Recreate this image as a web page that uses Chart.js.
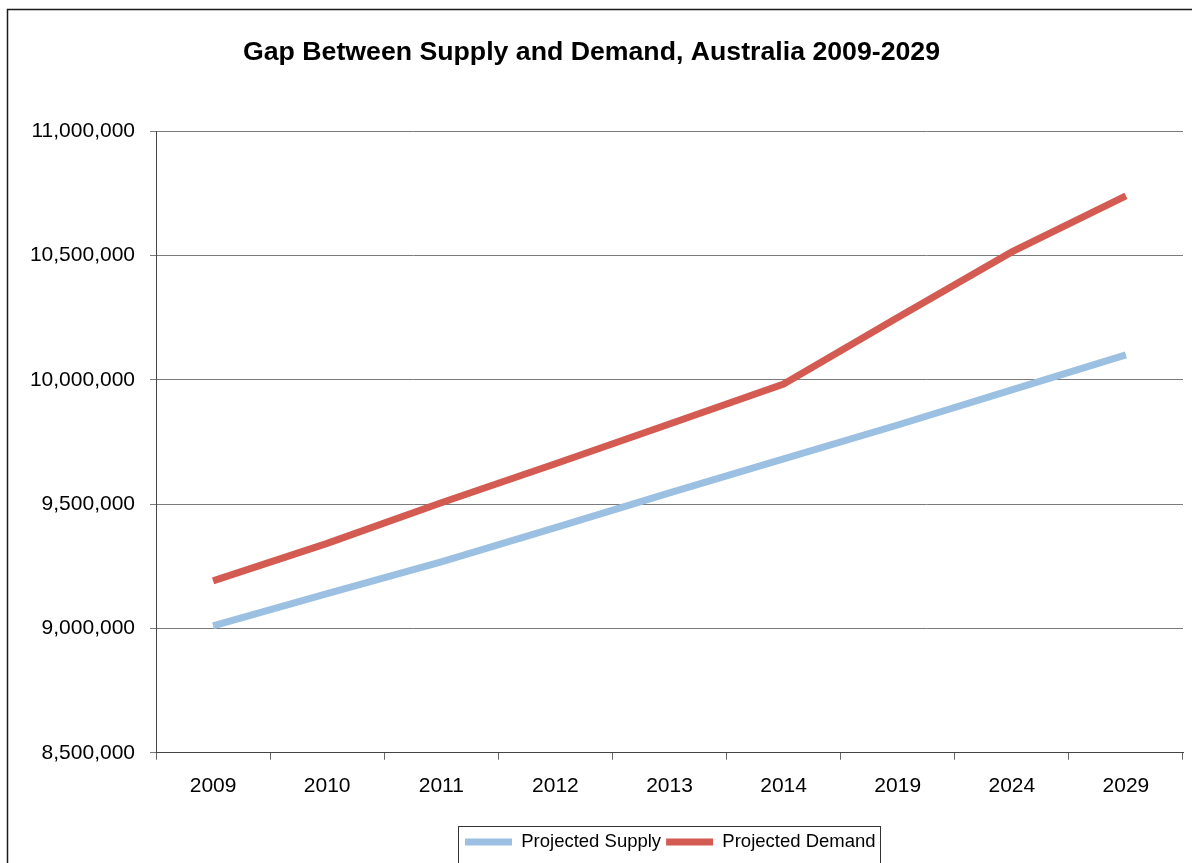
<!DOCTYPE html>
<html>
<head>
<meta charset="utf-8">
<script src="https://cdn.jsdelivr.net/npm/chart.js@4"></script>
<style>
  html, body { margin: 0; padding: 0; background: #fff; }
  #wrap { position: relative; width: 1192px; height: 863px; }
</style>
</head>
<body>
<div id="wrap"><canvas id="gapChart" width="1192" height="863"></canvas></div>
<script>
const years = ['2009', '2010', '2011', '2012', '2013', '2014', '2019', '2024', '2029'];
const projectedSupply = [9010000, 9140000, 9268000, 9405000, 9545000, 9682000, 9818000, 9959000, 10100000];
const projectedDemand = [9191000, 9342000, 9505000, 9662000, 9822000, 9983000, 10250000, 10514000, 10739000];
const yTicks = [8500000, 9000000, 9500000, 10000000, 10500000, 11000000];

const supplyColor = '#9bc0e1';
const demandColor = '#d45b52';
const fontFamily = 'Arial, "Liberation Sans", sans-serif';

// frame round the chart and a box round the legend
const framePlugin = {
    id: 'frame',
    afterLayout(chart) {
        // legend sits right of centre in the original
        chart.legend.left = 460;
    },
    beforeDraw(chart) {
        const ctx = chart.ctx;
        ctx.save();
        ctx.strokeStyle = '#1a1a1a';
        ctx.lineWidth = 1.5;
        ctx.beginPath();
        ctx.moveTo(7.5, 870);
        ctx.lineTo(7.5, 9.5);
        ctx.lineTo(1200, 9.5);
        ctx.stroke();
        ctx.restore();
    },
    afterDraw(chart) {
        const lg = chart.legend;
        const boxes = lg.legendHitBoxes;
        if (!boxes || !boxes.length) return;
        const last = boxes[boxes.length - 1];
        const left = boxes[0].left - 7;
        const right = last.left + last.width + 4;
        const top = boxes[0].top - 7;
        const ctx = chart.ctx;
        ctx.save();
        ctx.strokeStyle = '#333';
        ctx.lineWidth = 1;
        ctx.strokeRect(Math.round(left) + 0.5, Math.round(top) + 0.5, Math.round(right - left), 40);
        ctx.restore();
    }
};

const ctx = document.getElementById('gapChart').getContext('2d');
const gapChart = new Chart(ctx, {
    type: 'line',
    data: {
        labels: years,
        datasets: [{
            label: 'Projected Supply',
            data: projectedSupply,
            borderColor: supplyColor,
            backgroundColor: supplyColor,
            borderWidth: 7,
            borderCapStyle: 'butt',
            pointRadius: 0,
            tension: 0
        }, {
            label: 'Projected Demand',
            data: projectedDemand,
            borderColor: demandColor,
            backgroundColor: demandColor,
            borderWidth: 7,
            borderCapStyle: 'butt',
            pointRadius: 0,
            tension: 0
        }]
    },
    options: {
        responsive: false,
        animation: false,
        devicePixelRatio: 1,
        layout: {
            padding: { left: 0, right: 9, top: 0, bottom: 1.75 }
        },
        plugins: {
            title: {
                display: true,
                text: 'Gap Between Supply and Demand, Australia 2009-2029',
                color: '#000',
                font: { family: fontFamily, size: 26.7, weight: 'bold' },
                padding: { top: 37, bottom: 62 }
            },
            legend: {
                position: 'bottom',
                align: 'start',
                labels: {
                    color: '#000',
                    font: { family: fontFamily, size: 18.5 },
                    boxWidth: 47,
                    boxHeight: 7,
                    padding: 5,
                    generateLabels(chart) {
                        const items = Chart.defaults.plugins.legend.labels.generateLabels(chart);
                        items.forEach(function(item) {
                            item.fillStyle = item.strokeStyle;
                            item.lineWidth = 0;
                        });
                        return items;
                    }
                }
            },
            tooltip: { enabled: false }
        },
        scales: {
            x: {
                offset: true,
                grid: {
                    offset: true,
                    drawOnChartArea: false,
                    drawTicks: true,
                    tickLength: 7,
                    color: '#666'
                },
                border: { color: '#444', width: 1 },
                ticks: {
                    color: '#000',
                    padding: 14,
                    font: { family: fontFamily, size: 21 },
                    maxRotation: 0,
                    autoSkip: false
                },
                afterFit(scale) {
                    scale.height = 75;
                }
            },
            y: {
                min: yTicks[0],
                max: yTicks[yTicks.length - 1],
                grid: {
                    color: '#7a7a7a',
                    tickLength: 6,
                    drawTicks: true
                },
                border: { color: '#444', width: 1 },
                afterBuildTicks(scale) {
                    scale.ticks = yTicks.map(function(v) { return { value: v }; });
                },
                ticks: {
                    color: '#000',
                    padding: 15,
                    font: { family: fontFamily, size: 21 },
                    callback: function(value) {
                        return value.toLocaleString('en-US');
                    }
                },
                afterFit(scale) {
                    scale.width = 156;
                }
            }
        }
    },
    plugins: [framePlugin]
});
</script>
</body>
</html>
